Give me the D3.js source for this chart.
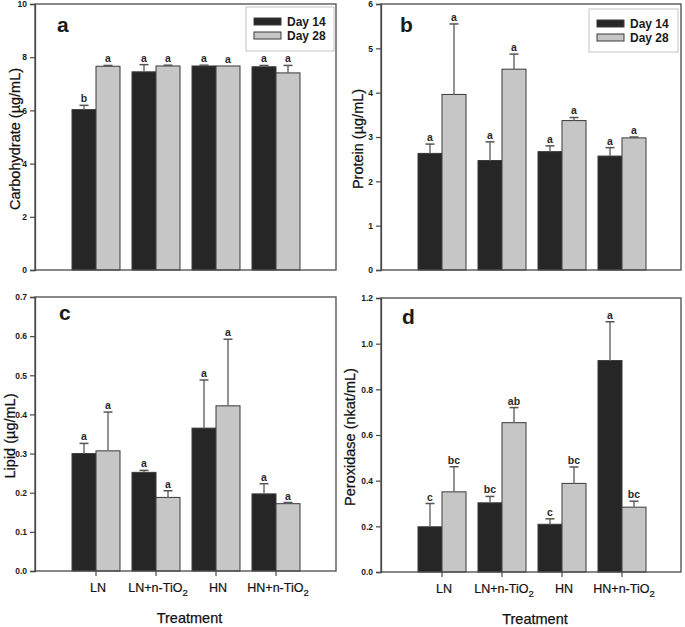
<!DOCTYPE html>
<html><head><meta charset="utf-8">
<script src="https://cdn.jsdelivr.net/npm/d3@7/dist/d3.min.js"></script>
<style>body{margin:0;background:#fff}svg{display:block}text{font-family:"Liberation Sans",Arial,Helvetica,sans-serif}</style>
</head><body>
<script>
const categories = ["LN", "LN+n-TiO2", "HN", "HN+n-TiO2"];
const seriesNames = ["Day 14", "Day 28"];

const carbD14 = [6.03, 7.45, 7.67, 7.64];
const carbD14Err = [0.16, 0.27, 0.03, 0.05];
const carbD28 = [7.66, 7.67, 7.67, 7.41];
const carbD28Err = [0.03, 0.03, 0, 0.28];
const carbLetD14 = ["b", "a", "a", "a"];
const carbLetD28 = ["a", "a", "a", "a"];

const protD14 = [2.63, 2.47, 2.67, 2.57];
const protD14Err = [0.21, 0.42, 0.13, 0.19];
const protD28 = [3.96, 4.53, 3.37, 2.98];
const protD28Err = [1.59, 0.34, 0.07, 0.02];
const protLetD14 = ["a", "a", "a", "a"];
const protLetD28 = ["a", "a", "a", "a"];

const lipD14 = [0.300, 0.252, 0.365, 0.197];
const lipD14Err = [0.026, 0.005, 0.123, 0.026];
const lipD28 = [0.307, 0.188, 0.422, 0.172];
const lipD28Err = [0.099, 0.017, 0.170, 0.003];
const lipLetD14 = ["a", "a", "a", "a"];
const lipLetD28 = ["a", "a", "a", "a"];

const perD14 = [0.198, 0.303, 0.209, 0.926];
const perD14Err = [0.102, 0.028, 0.024, 0.170];
const perD28 = [0.351, 0.654, 0.388, 0.284];
const perD28Err = [0.110, 0.066, 0.072, 0.026];
const perLetD14 = ["c", "bc", "c", "a"];
const perLetD28 = ["bc", "ab", "bc", "bc"];

const carbTicks = [0, 2, 4, 6, 8, 10];
const protTicks = [0, 1, 2, 3, 4, 5, 6];
const lipTicks = [0, 0.1, 0.2, 0.3, 0.4, 0.5, 0.6, 0.7];
const perTicks = [0, 0.2, 0.4, 0.6, 0.8, 1.0, 1.2];

const colors = ["#262626", "#c6c6c6"];
const frameCol = "#4a4a4a";

const svg = d3.select("body").append("svg").attr("width", 685).attr("height", 627);

function panel(cfg) {
  const {x0, x1, y0, y1, max, ticks, fmt, d14, d14e, d28, d28e, l14, l28, label, title, titleX, legend, xlabels} = cfg;
  const g = svg.append("g");
  const y = d3.scaleLinear().domain([0, max]).range([y1, y0]);
  const xg = d3.scaleBand().domain(categories).range([x0 + 31, x0 + 271]);
  const xs = d3.scaleBand().domain(seriesNames).range([-24, 24]);

  const rows = [];
  categories.forEach((c, i) => {
    rows.push({c, s: seriesNames[0], v: d14[i], e: d14e[i], l: l14[i], k: 0});
    rows.push({c, s: seriesNames[1], v: d28[i], e: d28e[i], l: l28[i], k: 1});
  });
  const cx = d => xg(d.c) + xg.bandwidth() / 2 + xs(d.s);

  g.selectAll("rect.bar").data(rows).join("rect")
    .attr("x", d => cx(d)).attr("width", xs.bandwidth())
    .attr("y", d => y(d.v)).attr("height", d => y(0) - y(d.v))
    .attr("fill", d => colors[d.k]).attr("stroke", "#3a3a3a").attr("stroke-width", 1);

  const eg = g.selectAll("g.err").data(rows.filter(d => d.e > 0)).join("g");
  eg.append("line")
    .attr("x1", d => cx(d) + xs.bandwidth() / 2).attr("x2", d => cx(d) + xs.bandwidth() / 2)
    .attr("y1", d => y(d.v)).attr("y2", d => y(d.v + d.e))
    .attr("stroke", "#6e6e6e").attr("stroke-width", 1.5);
  eg.append("line")
    .attr("x1", d => cx(d) + xs.bandwidth() / 2 - 4.5).attr("x2", d => cx(d) + xs.bandwidth() / 2 + 4.5)
    .attr("y1", d => y(d.v + d.e)).attr("y2", d => y(d.v + d.e))
    .attr("stroke", "#555").attr("stroke-width", 1.5);

  g.selectAll("text.sig").data(rows).join("text")
    .attr("x", d => cx(d) + xs.bandwidth() / 2)
    .attr("y", d => y(d.v + d.e) - 3)
    .attr("text-anchor", "middle").attr("font-size", 10.5).attr("font-weight", "bold").attr("fill", "#2a2a2a")
    .text(d => d.l);

  g.append("rect").attr("x", x0).attr("y", y0).attr("width", x1 - x0).attr("height", y1 - y0)
    .attr("fill", "none").attr("stroke", frameCol).attr("stroke-width", 1.3);

  const ya = d3.axisLeft(y).tickValues(ticks).tickSize(5).tickPadding(3).tickFormat(fmt);
  const ayg = g.append("g").attr("transform", `translate(${x0},0)`).call(ya);
  ayg.select(".domain").attr("stroke", frameCol).attr("stroke-width", 1.3);
  ayg.selectAll(".tick line").attr("stroke", frameCol).attr("stroke-width", 1.2);
  ayg.selectAll(".tick text").attr("font-size", 8.5).attr("font-weight", "bold").attr("fill", "#1a1a1a")
    .attr("font-family", "Liberation Sans, Arial, sans-serif");

  g.append("text").attr("x", cfg.lx).attr("y", cfg.ly).attr("font-size", 21).attr("font-weight", "bold").attr("fill", "#1a1a1a").text(label);

  g.append("text").attr("transform", `translate(${titleX},${(y0 + y1) / 2 + 2}) rotate(-90)`)
    .attr("text-anchor", "middle").attr("font-size", 14.5).attr("fill", "#111")
    .attr("stroke", "#111").attr("stroke-width", 0.25).text(title);

  if (legend) {
    const L = legend;
    g.append("rect").attr("x", L.x).attr("y", L.y).attr("width", L.w).attr("height", L.h)
      .attr("fill", "#fff").attr("stroke", "#c4c4c4").attr("stroke-width", 1);
    seriesNames.forEach((s, i) => {
      g.append("rect").attr("x", L.x + 8).attr("y", L.y + 11 + i * 14).attr("width", 27).attr("height", 7)
        .attr("fill", colors[i]).attr("stroke", "#3a3a3a").attr("stroke-width", 1);
      g.append("text").attr("x", L.x + 41).attr("y", L.y + 19 + i * 14).attr("font-size", 12)
        .attr("font-weight", "bold").attr("fill", "#1a1a1a").text(s);
    });
  }

  if (xlabels) {
    const xa = d3.axisBottom(xg).tickSize(5).tickFormat("");
    const axg = g.append("g").attr("transform", `translate(0,${y1})`).call(xa);
    axg.select(".domain").remove();
    axg.selectAll(".tick line").attr("stroke", frameCol).attr("stroke-width", 1.2);
    categories.forEach(c => {
      const t = g.append("text").attr("x", xg(c) + xg.bandwidth() / 2 + 2).attr("y", y1 + 21)
        .attr("text-anchor", "middle").attr("font-size", 12.5).attr("fill", "#111")
        .attr("stroke", "#111").attr("stroke-width", 0.2);
      const m = c.match(/^(.*TiO)2$/);
      if (m) {
        t.append("tspan").text(m[1]);
        t.append("tspan").attr("font-size", 9.5).attr("dy", 4).text("2");
      } else t.text(c);
    });
    g.append("text").attr("x", (x0 + x1) / 2 + 4).attr("y", y1 + 52).attr("text-anchor", "middle")
      .attr("font-size", 14.5).attr("fill", "#111").attr("stroke", "#111").attr("stroke-width", 0.25).text("Treatment");
  }
}

const f0 = d3.format("d"), f1 = d3.format(".1f");

panel({x0: 35, x1: 336, y0: 4, y1: 270, max: 10, ticks: carbTicks, fmt: f0,
  d14: carbD14, d14e: carbD14Err, d28: carbD28, d28e: carbD28Err, l14: carbLetD14, l28: carbLetD28,
  label: "a", lx: 57, ly: 32, title: "Carbohydrate (µg/mL)", titleX: 20,
  legend: {x: 246, y: 7, w: 88, h: 44}});
panel({x0: 381, x1: 681, y0: 4, y1: 270, max: 6, ticks: protTicks, fmt: f0,
  d14: protD14, d14e: protD14Err, d28: protD28, d28e: protD28Err, l14: protLetD14, l28: protLetD28,
  label: "b", lx: 400, ly: 32, title: "Protein (µg/mL)", titleX: 363,
  legend: {x: 589, y: 9, w: 89, h: 43}});
panel({x0: 35, x1: 336, y0: 297, y1: 571, max: 0.7, ticks: lipTicks, fmt: f1,
  d14: lipD14, d14e: lipD14Err, d28: lipD28, d28e: lipD28Err, l14: lipLetD14, l28: lipLetD28,
  label: "c", lx: 59, ly: 320, title: "Lipid (µg/mL)", titleX: 15, xlabels: true});
panel({x0: 381, x1: 681, y0: 298, y1: 572, max: 1.2, ticks: perTicks, fmt: f1,
  d14: perD14, d14e: perD14Err, d28: perD28, d28e: perD28Err, l14: perLetD14, l28: perLetD28,
  label: "d", lx: 402, ly: 324, title: "Peroxidase (nkat/mL)", titleX: 355, xlabels: true});
</script>
</body></html>
